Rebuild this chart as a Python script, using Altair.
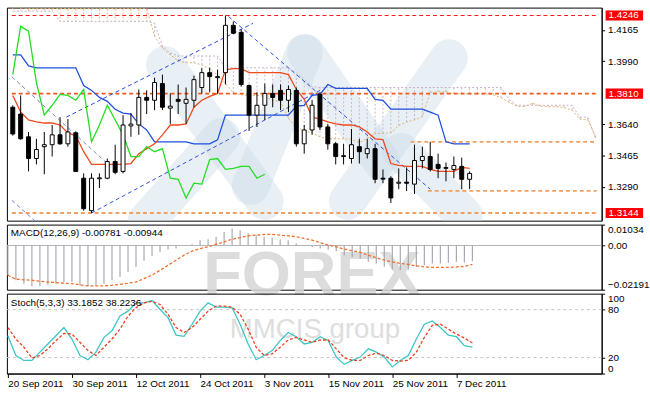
import altair as alt
import pandas as pd

# ---------------- data ----------------
date_labels = ["20 Sep 2011", "30 Sep 2011", "12 Oct 2011", "24 Oct 2011",
               "3 Nov 2011", "15 Nov 2011", "25 Nov 2011", "7 Dec 2011"]
label_bars = [0, 8, 16, 24, 32, 40, 48, 56]

opens = [1.3734, 1.3696, 1.3569, 1.3448, 1.3514, 1.3525, 1.3580, 1.3530, 1.3591, 1.3338,
         1.3157, 1.3335, 1.3338, 1.3431, 1.3376, 1.3630, 1.3635, 1.3789, 1.3773, 1.3866,
         1.3729, 1.3778, 1.3756, 1.3773, 1.3844, 1.3927, 1.3899, 1.3927, 1.4191, 1.4152,
         1.3855, 1.3690, 1.3745, 1.3811, 1.3828, 1.3773, 1.3828, 1.3530, 1.3607, 1.3806,
         1.3624, 1.3530, 1.3459, 1.3448, 1.3514, 1.3475, 1.3503, 1.3338, 1.3338, 1.3310,
         1.3316, 1.3305, 1.3437, 1.3459, 1.3415, 1.3393, 1.3387, 1.3404, 1.3332]
highs = [1.3745, 1.3800, 1.3596, 1.3558, 1.3596, 1.3635, 1.3679, 1.3668, 1.3600, 1.3365,
         1.3365, 1.3365, 1.3448, 1.3525, 1.3690, 1.3701, 1.3833, 1.3828, 1.3899, 1.3916,
         1.3811, 1.3861, 1.3844, 1.3910, 1.3954, 1.3954, 1.3943, 1.4246, 1.4213, 1.4169,
         1.3861, 1.3817, 1.3866, 1.3861, 1.3861, 1.3855, 1.3844, 1.3635, 1.3773, 1.3817,
         1.3641, 1.3541, 1.3530, 1.3613, 1.3558, 1.3558, 1.3530, 1.3387, 1.3349, 1.3393,
         1.3398, 1.3525, 1.3514, 1.3541, 1.3475, 1.3426, 1.3459, 1.3453, 1.3376]
lows = [1.3575, 1.3553, 1.3376, 1.3415, 1.3360, 1.3459, 1.3525, 1.3514, 1.3376, 1.3157,
        1.3144, 1.3283, 1.3332, 1.3360, 1.3365, 1.3569, 1.3580, 1.3696, 1.3718, 1.3718,
        1.3641, 1.3696, 1.3641, 1.3734, 1.3811, 1.3817, 1.3811, 1.3861, 1.4141, 1.3850,
        1.3602, 1.3624, 1.3663, 1.3734, 1.3718, 1.3707, 1.3514, 1.3475, 1.3580, 1.3607,
        1.3497, 1.3415, 1.3415, 1.3420, 1.3420, 1.3448, 1.3310, 1.3310, 1.3200, 1.3277,
        1.3266, 1.3250, 1.3393, 1.3376, 1.3338, 1.3321, 1.3338, 1.3277, 1.3277]
closes = [1.3585, 1.3558, 1.3448, 1.3498, 1.3525, 1.3580, 1.3530, 1.3596, 1.3376, 1.3168,
          1.3338, 1.3340, 1.3431, 1.3371, 1.3635, 1.3640, 1.3789, 1.3773, 1.3872, 1.3734,
          1.3740, 1.3767, 1.3778, 1.3888, 1.3927, 1.3905, 1.3905, 1.4191, 1.4147, 1.3861,
          1.3690, 1.3745, 1.3811, 1.3789, 1.3773, 1.3833, 1.3530, 1.3607, 1.3745, 1.3624,
          1.3530, 1.3459, 1.3464, 1.3525, 1.3486, 1.3503, 1.3332, 1.3333, 1.3228, 1.3316,
          1.3310, 1.3437, 1.3459, 1.3387, 1.3393, 1.3398, 1.3409, 1.3332, 1.3365]

tenkan = [1.3800, 1.3707, 1.3663, 1.3652, 1.3646, 1.3646, 1.3635, 1.3591, 1.3575, 1.3486,
          1.3415, 1.3415, 1.3415, 1.3415, 1.3415, 1.3420, 1.3475, 1.3503, 1.3530, 1.3580,
          1.3635, 1.3635, 1.3641, 1.3734, 1.3773, 1.3795, 1.3811, 1.3943, 1.3949, 1.3949,
          1.3927, 1.3927, 1.3927, 1.3927, 1.3927, 1.3916, 1.3833, 1.3778, 1.3679, 1.3668,
          1.3652, 1.3641, 1.3635, 1.3635, 1.3624, 1.3596, 1.3558, 1.3553, 1.3420, 1.3409,
          1.3404, 1.3404, 1.3404, 1.3387, 1.3376, 1.3376, 1.3376, 1.3398, 1.3393]
kijun = [1.4026, 1.4026, 1.3965, 1.3954, 1.3954, 1.3954, 1.3954, 1.3954, 1.3954, 1.3855,
         1.3828, 1.3789, 1.3767, 1.3723, 1.3701, 1.3696, 1.3641, 1.3607, 1.3541, 1.3541,
         1.3541, 1.3541, 1.3541, 1.3530, 1.3530, 1.3530, 1.3552, 1.3690, 1.3690, 1.3690,
         1.3690, 1.3690, 1.3690, 1.3690, 1.3690, 1.3690, 1.3740, 1.3745, 1.3800, 1.3806,
         1.3861, 1.3839, 1.3839, 1.3839, 1.3839, 1.3839, 1.3778, 1.3773, 1.3723, 1.3723,
         1.3723, 1.3723, 1.3723, 1.3707, 1.3690, 1.3541, 1.3530, 1.3530, 1.3530]
chikou = [1.3916, 1.4185, 1.4158, 1.3872, 1.3690, 1.3745, 1.3806, 1.3800, 1.3773, 1.3833,
          1.3541, 1.3635, 1.3745, 1.3663, 1.3580, 1.3459, 1.3459, 1.3514, 1.3486, 1.3503,
          1.3338, 1.3332, 1.3228, 1.3310, 1.3305, 1.3442, 1.3448, 1.3387, 1.3393, 1.3404,
          1.3404, 1.3338, 1.3360]
span_a = [1.4290, 1.4290] + [1.4284] * 16 + [
          1.4130, 1.4064, 1.4026, 1.3993, 1.3982, 1.3982, 1.3971, 1.3949, 1.3913, 1.3867,
          1.3814, 1.3803, 1.3800, 1.3800, 1.3795, 1.3773, 1.3765, 1.3671, 1.3622, 1.3602,
          1.3591, 1.3569, 1.3558, 1.3558, 1.3558, 1.3555, 1.3536, 1.3560, 1.3588, 1.3588,
          1.3591, 1.3632, 1.3652, 1.3663, 1.3682, 1.3817, 1.3820, 1.3820, 1.3809, 1.3809,
          1.3809, 1.3809, 1.3809, 1.3803, 1.3787, 1.3762, 1.3740, 1.3737, 1.3757, 1.3740,
          1.3737, 1.3737, 1.3732, 1.3718, 1.3668, 1.3663, 1.3572]
span_b = ([1.4270] * 6 + [1.4213] * 12 + [1.4202, 1.4075, 1.4037] + [1.4020] * 6 +
          [1.3954] * 9 + [1.3927, 1.3888, 1.3849] + [1.3844] * 24 + [1.3778] +
          [1.3745] * 8 + [1.3679, 1.3679, 1.3558])

macd_hist = [-0.0147, -0.0172, -0.0189, -0.0202, -0.0202, -0.0197, -0.0189, -0.0181, -0.0181, -0.0197,
             -0.0202, -0.0197, -0.0189, -0.0172, -0.0156, -0.0131, -0.0106, -0.0076, -0.0052, -0.0032,
             -0.0020, -0.0015, -0.0003, 0.0006, 0.0026, 0.0031, 0.0043, 0.0067, 0.0084, 0.0076,
             0.0060, 0.0051, 0.0043, 0.0038, 0.0031, 0.0026, 0.0010, 0.0002, -0.0007, -0.0015,
             -0.0020, -0.0028, -0.0048, -0.0057, -0.0065, -0.0081, -0.0089, -0.0106, -0.0119, -0.0123,
             -0.0119, -0.0106, -0.0098, -0.0089, -0.0089, -0.0086, -0.0081, -0.0084, -0.0078]
macd_signal = [-0.0147, -0.0167, -0.0170, -0.0172, -0.0177, -0.0181, -0.0184, -0.0187, -0.0189, -0.0195,
               -0.0200, -0.0200, -0.0200, -0.0197, -0.0193, -0.0187, -0.0181, -0.0164, -0.0147, -0.0123,
               -0.0098, -0.0073, -0.0048, -0.0028, -0.0015, -0.0007, 0.0006, 0.0018, 0.0031, 0.0039,
               0.0048, 0.0051, 0.0055, 0.0055, 0.0051, 0.0048, 0.0043, 0.0035, 0.0026, 0.0014,
               0.0002, -0.0007, -0.0018, -0.0026, -0.0034, -0.0048, -0.0061, -0.0073, -0.0081, -0.0089,
               -0.0094, -0.0101, -0.0106, -0.0109, -0.0109, -0.0109, -0.0106, -0.0104, -0.0094]

stoch_main = [47.3, 22.6, 16.4, 16.4, 26.8, 37.0, 47.3, 57.6, 43.2, 22.6,
              17.3, 26.8, 45.3, 53.5, 72.0, 78.1, 88.5, 88.5, 91.4, 80.2,
              70.0, 48.1, 46.5, 61.7, 78.1, 88.5, 83.1, 83.1, 82.3, 61.7,
              37.0, 17.3, 22.6, 28.8, 41.2, 51.4, 46.1, 37.0, 39.1, 46.1,
              41.2, 20.6, 11.5, 16.4, 20.6, 30.9, 26.8, 20.6, 8.3, 16.4,
              22.6, 43.2, 61.7, 65.8, 57.6, 48.1, 46.1, 34.9, 33.2]
stoch_signal = [57.6, 43.2, 33.0, 19.4, 22.6, 30.9, 41.2, 50.2, 49.4, 39.1,
                28.8, 22.6, 33.0, 43.2, 55.6, 72.0, 82.3, 88.5, 90.5, 86.4,
                74.1, 57.6, 51.4, 57.6, 67.9, 78.1, 84.3, 84.3, 83.1, 74.1,
                55.6, 33.0, 22.6, 24.7, 33.0, 42.0, 45.3, 42.0, 39.1, 42.0,
                42.0, 30.9, 19.8, 16.4, 16.4, 22.6, 25.5, 22.6, 16.4, 15.6,
                16.4, 26.8, 45.3, 60.5, 61.7, 55.6, 49.4, 44.5, 38.2]

price_ticks = [1.4165, 1.3990, 1.3640, 1.3465, 1.3290]
marked_levels = [1.4246, 1.3810, 1.3144]

# horizontal dashed levels: price, first bar, last bar
level_price = [1.4246, 1.3810, 1.3144, 1.3541, 1.3268]
level_from = [-0.12, -0.12, -0.12, 50.5, 52.7]
level_to = [74.14, 74.14, 74.14, 74.14, 74.14]
level_color = ["#ff1a1a", "#f25a1c", "#f2a062", "#f2a062", "#f2a062"]
level_width = [1.2, 1.8, 1.8, 1.8, 1.8]

# dashed trend lines (two points each: bar, price)
trend_id = ["a", "a", "b", "b", "c", "c", "d", "d", "e", "e"]
trend_bar = [6.8, 30.5, 10.0, 39.0, 27.4, 53.0, -0.12, 11.7, -0.12, 2.8]
trend_price = [1.3679, 1.4202, 1.3144, 1.3828, 1.4240, 1.3277, 1.3904, 1.3432, 1.3215, 1.3100]
trend_color = {"a": "#2546e6", "b": "#3552d6", "c": "#2f4fe0", "d": "#7a86c8", "e": "#6f80cc"}

# watermark stripes (bar, price endpoints)
wm_bar1 = [19.3, 30.2, 37.2, 42.5, 49.3, 17.0]
wm_p1 = [1.3971, 1.3294, 1.4037, 1.3211, 1.3486, 1.3101]
wm_bar2 = [32.0, 37.0, 46.8, 55.4, 57.3, 26.5]
wm_p2 = [1.3211, 1.4037, 1.3432, 1.4009, 1.3129, 1.3569]

macd_title = "MACD(12,26,9) -0.00781 -0.00944"
stoch_title = "Stoch(5,3,3) 33.1852 38.2236"

# ---------------- tables ----------------
n = len(opens)
cdf = pd.DataFrame({"bar": list(range(n)), "open": opens, "high": highs,
                    "low": lows, "close": closes})
cdf["body_lo"] = cdf[["open", "close"]].min(axis=1)
cdf["body_hi"] = cdf[["open", "close"]].max(axis=1)
cdf["fill"] = ["#ffffff" if c >= o else "#000000" for o, c in zip(opens, closes)]

ldf = pd.DataFrame({"bar": list(range(n)), "tenkan": tenkan, "kijun": kijun})
chdf = pd.DataFrame({"bar": list(range(len(chikou))), "chikou": chikou})
sdf = pd.DataFrame({"bar": list(range(len(span_a))), "a": span_a, "b": span_b})
sdf["col"] = ["#f0b27a" if a >= b else "#c9b6cc" for a, b in zip(span_a, span_b)]
lvdf = pd.DataFrame({"p": level_price, "x1": level_from, "x2": level_to,
                     "col": level_color, "w": level_width})
tdf = pd.DataFrame({"id": trend_id, "bar": trend_bar, "p": trend_price})
tdf["col"] = [trend_color[i] for i in trend_id]
wdf = pd.DataFrame({"x1": wm_bar1, "p1": wm_p1, "x2": wm_bar2, "p2": wm_p2})
mkdf = pd.DataFrame({"p": marked_levels, "t": [f"{v:.4f}" for v in marked_levels]})
mdf = pd.DataFrame({"bar": list(range(n)), "hist": macd_hist, "sig": macd_signal, "zero": 0.0})
stdf = pd.DataFrame({"bar": list(range(n)), "k": stoch_main, "d": stoch_signal})

FONT = "Liberation Sans"
W = 603

xs = alt.Scale(domain=[-0.12, 74.14], nice=False, zero=False)
ys = alt.Scale(domain=[1.31012, 1.42899], nice=False, zero=False)
yax = alt.Axis(orient="right", values=price_ticks, format=".4f", title=None, tickSize=3,
               labelPadding=3, grid=False, domainColor="black", tickColor="black",
               labelColor="black", labelFontSize=10, labelFont=FONT)


def X(f):
    return alt.X(f, type="quantitative", scale=xs, axis=None)


def Y(f):
    return alt.Y(f, type="quantitative", scale=ys, axis=yax)


base_c = alt.Chart(cdf)

stripes = alt.Chart(wdf).mark_rule(strokeWidth=38, strokeCap="round", color="#cddbe9",
                                   opacity=0.45, clip=True).encode(
    x=X("x1"), y=Y("p1"), x2="x2:Q", y2="p2:Q")

hatch = alt.Chart(sdf).mark_rule(strokeDash=[2, 2], strokeWidth=1, clip=True).encode(
    x=X("bar"), y=Y("a"), y2="b:Q", color=alt.Color("col:N", scale=None))
span_a_line = alt.Chart(sdf).mark_line(strokeDash=[2, 2], color="#e2b266", strokeWidth=1,
                                       clip=True).encode(x=X("bar"), y=Y("a"))
span_b_line = alt.Chart(sdf).mark_line(strokeDash=[2, 2], color="#c4b0c8", strokeWidth=1,
                                       clip=True).encode(x=X("bar"), y=Y("b"))

levels = alt.Chart(lvdf).mark_rule(strokeDash=[4, 3], clip=True).encode(
    x=X("x1"), x2="x2:Q", y=Y("p"), color=alt.Color("col:N", scale=None),
    strokeWidth=alt.StrokeWidth("w:Q", scale=None))

trends = alt.Chart(tdf).mark_line(strokeDash=[4, 3], strokeWidth=1, clip=True).encode(
    x=X("bar"), y=Y("p"), detail="id:N", color=alt.Color("col:N", scale=None))

kij = alt.Chart(ldf).mark_line(color="#1f4fdc", strokeWidth=1.3, clip=True).encode(
    x=X("bar"), y=Y("kijun"))
ten = alt.Chart(ldf).mark_line(color="#ee4a1c", strokeWidth=1.3, clip=True).encode(
    x=X("bar"), y=Y("tenkan"))
chi = alt.Chart(chdf).mark_line(color="#22dd22", strokeWidth=1.3, clip=True).encode(
    x=X("bar"), y=Y("chikou"))

wicks = base_c.mark_rule(color="black", strokeWidth=1, clip=True).encode(
    x=X("bar"), y=Y("low"), y2="high:Q")
bodies = base_c.mark_bar(size=4, stroke="black", strokeWidth=1, clip=True).encode(
    x=X("bar"), y=Y("body_lo"), y2="body_hi:Q", fill=alt.Fill("fill:N", scale=None))

boxes = alt.Chart(mkdf).transform_calculate(
    lo="datum.p - 0.0028", hi="datum.p + 0.0028"
).mark_rect(color="#ff0000").encode(
    x=alt.value(W + 4), x2=alt.value(W + 42), y=Y("lo"), y2="hi:Q")
box_text = alt.Chart(mkdf).mark_text(color="white", fontSize=10, font=FONT, align="left",
                                     baseline="middle").encode(
    x=alt.value(W + 7), y=Y("p"), text="t:N")

main = alt.layer(stripes, hatch, span_a_line, span_b_line, levels, trends, kij, ten, chi,
                 wicks, bodies, boxes, box_text).properties(width=W, height=216)

# ---------------- MACD ----------------
ms = alt.Scale(domain=[-0.02191, 0.01034], nice=False, zero=False)
max_ = alt.Axis(orient="right", values=[0.01034, 0, -0.02191], title=None, tickSize=3,
                labelPadding=3, grid=False, domainColor="black", tickColor="black",
                labelColor="black", labelFontSize=10, labelFont=FONT, labelFlush=True,
                labelExpr="datum.value == 0 ? '0.00' : format(datum.value, '.5f')")

zero_line = alt.Chart(pd.DataFrame({"z": [0.0]})).mark_rule(color="#b4b0b8").encode(
    y=alt.Y("z:Q", scale=ms, axis=max_))
hist = alt.Chart(mdf).mark_rule(color="#a8a8b2", strokeWidth=1.2).encode(
    x=X("bar"), y=alt.Y("hist:Q", scale=ms, axis=max_), y2="zero:Q")
sig = alt.Chart(mdf).mark_line(color="#f0702c", strokeDash=[3, 2], strokeWidth=1.3).encode(
    x=X("bar"), y=alt.Y("sig:Q", scale=ms, axis=max_))
forex = alt.Chart(pd.DataFrame({"t": ["FOREX"]})).mark_text(
    fontSize=64, fontWeight="bold", font=FONT, color="#d6d6d6", align="left",
    baseline="alphabetic", opacity=0.85).encode(x=alt.value(199), y=alt.value(71), text="t:N")
mtitle = alt.Chart(pd.DataFrame({"t": [macd_title]})).mark_text(
    fontSize=10, font=FONT, color="black", align="left", baseline="middle").encode(
    x=alt.value(4), y=alt.value(9), text="t:N")
macd = alt.layer(forex, zero_line, hist, sig, mtitle).properties(width=W, height=66)

# ---------------- Stochastic ----------------
ss = alt.Scale(domain=[0, 100], nice=False, zero=False)
sax = alt.Axis(orient="right", values=[100, 80, 20, 0], title=None, tickSize=3,
               labelPadding=3, grid=False, domainColor="black", tickColor="black",
               labelColor="black", labelFontSize=10, labelFont=FONT, labelFlush=True)
label_expr = "[" + ",".join(f"'{d}'" for d in date_labels) + "][round(datum.value / 8)]"
xax = alt.Axis(values=label_bars, labelExpr=label_expr, title=None, labelAlign="left",
               tickSize=4, labelPadding=1, grid=False, domainColor="black",
               tickColor="black", labelColor="black", labelFontSize=10, labelFont=FONT,
               labelFlush=False, labelOverlap=False, labelBound=False)


def SX(f):
    return alt.X(f, type="quantitative", scale=xs, axis=xax)


lv = alt.Chart(pd.DataFrame({"v": [80, 20]})).mark_rule(color="#c4c4c4", strokeDash=[3, 3]).encode(
    y=alt.Y("v:Q", scale=ss, axis=sax))
kline = alt.Chart(stdf).mark_line(color="#3cc6c6", strokeWidth=1.3).encode(
    x=SX("bar"), y=alt.Y("k:Q", scale=ss, axis=sax))
dline = alt.Chart(stdf).mark_line(color="#ee3c1c", strokeDash=[3, 2], strokeWidth=1.3).encode(
    x=SX("bar"), y=alt.Y("d:Q", scale=ss, axis=sax))
mm = alt.Chart(pd.DataFrame({"t": ["MMCIS group"]})).mark_text(
    fontSize=28, font=FONT, color="#dedede", align="left", baseline="alphabetic").encode(
    x=alt.value(226), y=alt.value(45), text="t:N")
stitle = alt.Chart(pd.DataFrame({"t": [stoch_title]})).mark_text(
    fontSize=10, font=FONT, color="black", align="left", baseline="middle").encode(
    x=alt.value(4), y=alt.value(10), text="t:N")
stoch = alt.layer(mm, lv, kline, dline, stitle).properties(width=W, height=81)

chart = alt.vconcat(main, macd, stoch, spacing=4, bounds="flush").properties(
    padding={"left": 4, "top": 4, "right": 0, "bottom": 0},
    background="white",
).configure_view(stroke="black", strokeWidth=1).configure_axis(labelFont=FONT)

chart.save("out.html", embed_options={"renderer": "svg", "actions": False})
